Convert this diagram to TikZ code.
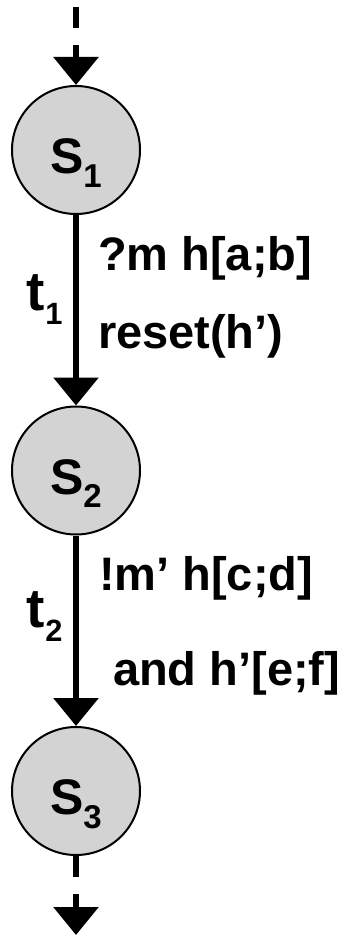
\documentclass[tikz,border=0pt]{standalone}
\usepackage{fontspec}
\setmainfont{Liberation Sans}
\usetikzlibrary{arrows.meta,positioning}

\definecolor{stategray}{RGB}{211,211,211}
\newcommand\subidx[2][0.66]{\raisebox{-0.27em}{\scalebox{#1}{#2}}}

\begin{document}
\begin{tikzpicture}[->,>={Triangle[length=28pt,width=44pt]},x=1pt,y=1pt,line width=6pt,node distance=320.5pt,
    state/.style={circle,draw,line width=2pt,fill=stategray,minimum size=128pt,inner sep=0pt,
        text height=47pt,text depth=0pt,font=\bfseries\fontsize{50}{50}\selectfont},
    trans/.style={anchor=base west,inner sep=0pt,font=\bfseries\fontsize{55}{55}\selectfont},
    guard/.style={anchor=base west,inner sep=0pt,font=\bfseries\fontsize{47}{47}\selectfont},
    open end/.style={dash pattern=on 21pt off 17pt}]

            \useasboundingbox (0,0) rectangle (345,-936);

            \node[state] (s1) at (76,-150) {S\subidx{1}};
            \node[state] (s2) [below of = s1] {S\subidx{2}};
            \node[state] (s3) [below of = s2] {S\subidx{3}};
            \coordinate (in) at (76,-7);
            \coordinate (out) at (76,-935);

            \node[trans] (t1) at (24,-310) {t\subidx[0.56]{1}};
            \node[trans] (t2) at (24,-627) {t\subidx[0.56]{2}};
            \node[guard] (g1) at (95,-270) {?m h[a;b]};
            \node[guard] (a1) at (95,-348) {reset(h’)};
            \node[guard] (g2) at (96,-590) {!m’ h[c;d]};
            \node[guard] (g3) at (110,-685) {and h’[e;f]};

            \path
                (in) edge[open end] (s1)
                (s1) edge (s2)
                (s2) edge (s3)
                (s3) edge[open end] (out)
            ;
        \end{tikzpicture}
\end{document}
